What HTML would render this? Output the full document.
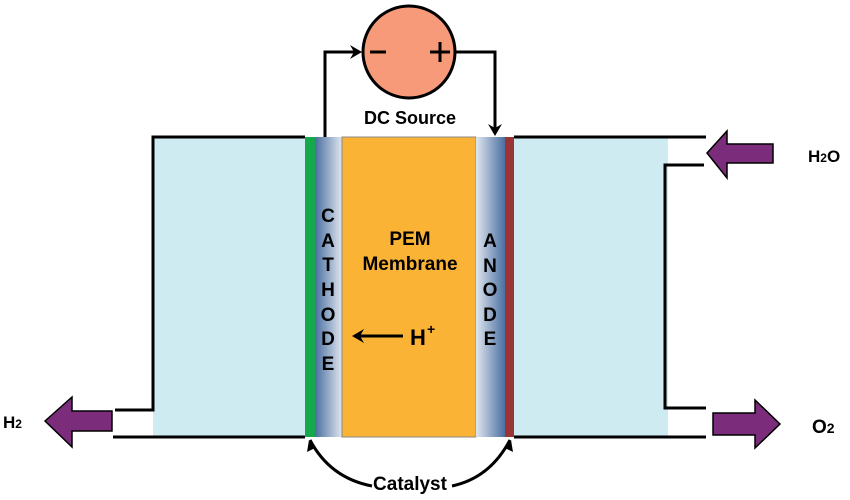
<!DOCTYPE html>
<html><head><style>body{margin:0;background:#fff}</style></head><body>
<svg width="850" height="500" xmlns="http://www.w3.org/2000/svg" style="display:block;font-family:'Liberation Sans',sans-serif;font-weight:bold">
<defs>
<linearGradient id="cg" x1="0" x2="1"><stop offset="0" stop-color="#4a6fa0"/><stop offset="1" stop-color="#dfe6f0"/></linearGradient>
<linearGradient id="ag" x1="0" x2="1"><stop offset="0" stop-color="#dfe6f0"/><stop offset="1" stop-color="#4a6fa0"/></linearGradient>
</defs>
<rect x="153" y="137" width="152" height="300" fill="#cdebf1"/>
<rect x="514" y="137" width="154" height="300" fill="#cdebf1"/>
<g stroke="#000" stroke-width="3" fill="none">
<polyline points="305,137 153,137 153,410 115,410"/>
<line x1="113" y1="437" x2="305" y2="437"/>
<line x1="514" y1="137" x2="706" y2="137"/>
<polyline points="704,165 665,165 665,408 706,408"/>
<line x1="514" y1="437" x2="706" y2="437"/>
<polyline points="325,137 325,52 358,52"/>
<polyline points="456,52 495,52 495,132"/>
</g>
<polygon points="362,52 350,45 354,52 350,59" fill="#000"/>
<polygon points="495,136 488,124 495,128 502,124" fill="#000"/>
<rect x="305" y="137" width="10" height="300" fill="#16a84c"/>
<rect x="315" y="137" width="27" height="300" fill="url(#cg)"/>
<rect x="342" y="137" width="134" height="300" fill="#fbb336" stroke="#888" stroke-width="1"/>
<rect x="476" y="137" width="29" height="300" fill="url(#ag)"/>
<rect x="505" y="137" width="9" height="300" fill="#9b3434"/>
<circle cx="409" cy="52" r="46" fill="#f79a7a" stroke="#000" stroke-width="3"/>
<line x1="370" y1="52" x2="386" y2="52" stroke="#000" stroke-width="3"/>
<line x1="430" y1="52" x2="450" y2="52" stroke="#000" stroke-width="3"/>
<line x1="440" y1="42" x2="440" y2="62" stroke="#000" stroke-width="3"/>
<text x="410" y="124" font-size="18" text-anchor="middle">DC Source</text>
<g font-size="19" text-anchor="middle">
<text x="328" y="222">C</text><text x="328" y="247">A</text><text x="328" y="271">T</text><text x="328" y="296">H</text><text x="328" y="321">O</text><text x="328" y="345">D</text><text x="328" y="370">E</text>
<text x="490" y="247">A</text><text x="490" y="272">N</text><text x="490" y="296">O</text><text x="490" y="321">D</text><text x="490" y="345">E</text>
<text x="410" y="245">PEM</text><text x="410" y="270">Membrane</text>
<text x="410" y="490">Catalyst</text>
</g>
<line x1="360" y1="336" x2="403" y2="336" stroke="#000" stroke-width="3"/>
<polygon points="352,336 364,329 360,336 364,343" fill="#000"/>
<text x="410" y="345" font-size="22">H</text><text x="427" y="334" font-size="14">+</text>
<path d="M310,440 Q330,478 372,486" stroke="#000" stroke-width="3" fill="none"/>
<polygon points="309,440 307,452 315,448" fill="#000"/>
<path d="M510,440 Q490,478 452,486" stroke="#000" stroke-width="3" fill="none"/>
<polygon points="511,440 513,452 505,448" fill="#000"/>
<g fill="#7b2d7b" stroke="#000" stroke-width="1.5">
<polygon points="707,153 727,131 727,144 773,144 773,163 727,163 727,178"/>
<polygon points="780,424 755,400 755,413 713,413 713,435 755,435 755,448"/>
<polygon points="45,421 72,397 72,411 112,411 112,431 72,431 72,447"/>
</g>
<text x="808" y="162" font-size="17">H<tspan font-size="12">2</tspan>O</text>
<text x="812" y="433" font-size="19">O<tspan font-size="14">2</tspan></text>
<text x="3" y="428" font-size="17">H<tspan font-size="12">2</tspan></text>
</svg>
</body></html>
